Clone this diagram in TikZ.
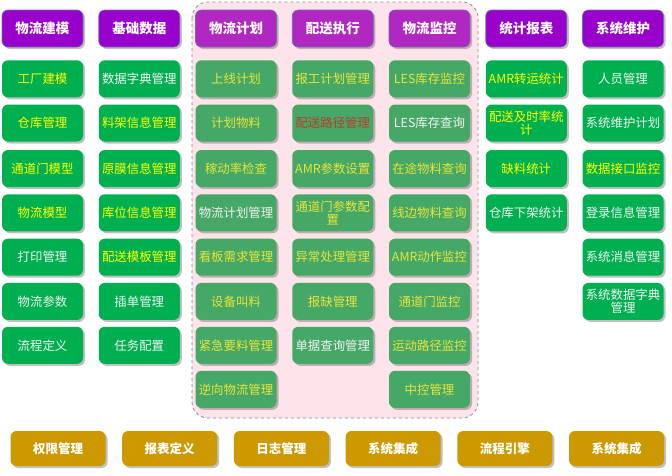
\documentclass[tikz,border=0pt]{standalone}
\usepackage{fontspec}
\setmainfont{Noto Sans CJK SC}
\usetikzlibrary{shadows}
\definecolor{hdrA}{HTML}{9900CC}
\definecolor{hdrB}{HTML}{B027C2}
\definecolor{hdrLine}{HTML}{6A6FB0}
\definecolor{grnA}{HTML}{00B050}
\definecolor{grnB}{HTML}{46A866}
\definecolor{yelA}{HTML}{FFFF00}
\definecolor{yelB}{HTML}{E8E43C}
\definecolor{whtT}{HTML}{F2F2F2}
\definecolor{redT}{HTML}{C0392B}
\definecolor{goldC}{HTML}{CC9900}
\definecolor{pinkbg}{HTML}{FCE4EA}
\definecolor{dashC}{HTML}{8C8C8C}
\tikzset{
  box/.style={rectangle, rounded corners=6pt, minimum width=81pt, minimum height=37pt,
    text width=80pt, align=center, inner sep=0.5pt,
    font=\fontsize{12.4}{13.4}\selectfont,
    drop shadow={shadow xshift=2pt,shadow yshift=-2pt,opacity=0.35,fill=black!70}},
  hA/.style={box, fill=hdrA, draw=hdrLine, line width=0.6pt, text=white, font=\bfseries\fontsize{13.5}{14.5}\selectfont},
  hB/.style={box, fill=hdrB, draw=hdrLine, line width=0.6pt, text=white, font=\bfseries\fontsize{13.5}{14.5}\selectfont},
  gAy/.style={box, fill=grnA, text=yelA},
  gAw/.style={box, fill=grnA, text=whtT},
  gBy/.style={box, fill=grnB, text=yelB},
  gBw/.style={box, fill=grnB, text=whtT},
  gBr/.style={box, fill=grnB, text=redT},
  bot/.style={rectangle, rounded corners=6pt, minimum width=95pt, minimum height=35pt,
    fill=goldC, text=white, font=\bfseries\fontsize{12.5}{14}\selectfont,
    drop shadow={shadow xshift=2pt,shadow yshift=-2pt,opacity=0.35,fill=black!70}},
  container/.style={draw=dashC, dashed, line width=0.8pt, fill=pinkbg, rounded corners=16pt}
}
\begin{document}
\begin{tikzpicture}[x=1pt,y=-1pt]
\useasboundingbox (0,0) rectangle (672,475);
\fill[white] (0,0) rectangle (672,475);
% dashed container for middle three columns
\draw[container] (192,2) rectangle (478,418);
% headers
\node[hA] (h1) at (42.5,28.5) {物流建模};
\node[hA] (h2) at (139.25,28.5) {基础数据};
\node[hB] (h3) at (236,28.5) {物流计划};
\node[hB] (h4) at (332.75,28.5) {配送执行};
\node[hB] (h5) at (429.5,28.5) {物流监控};
\node[hA] (h6) at (526.25,28.5) {统计报表};
\node[hA] (h7) at (623,28.5) {系统维护};
% column 1
\node[gAy] (a1) at (42.5,78.8) {工厂建模};
\node[gAy] (a2) at (42.5,123) {仓库管理};
\node[gAy] (a3) at (42.5,168.5) {通道门模型};
\node[gAy] (a4) at (42.5,212.8) {物流模型};
\node[gAw] (a5) at (42.5,257.2) {打印管理};
\node[gAw] (a6) at (42.5,301.4) {物流参数};
\node[gAw] (a7) at (42.5,345.3) {流程定义};
% column 2
\node[gAw] (b1) at (139.25,78.8) {数据字典管理};
\node[gAy] (b2) at (139.25,123) {料架信息管理};
\node[gAy] (b3) at (139.25,168.5) {原膜信息管理};
\node[gAy] (b4) at (139.25,212.8) {库位信息管理};
\node[gAy] (b5) at (139.25,257.2) {配送模板管理};
\node[gAw] (b6) at (139.25,301.4) {插单管理};
\node[gAw] (b7) at (139.25,345.3) {任务配置};
% column 3
\node[gBy] (c1) at (236,78.8) {上线计划};
\node[gBy] (c2) at (236,123) {计划物料};
\node[gBy] (c3) at (236,168.5) {稼动率检查};
\node[gBw] (c4) at (236,212.8) {物流计划管理};
\node[gBy] (c5) at (236,257.2) {看板需求管理};
\node[gBy] (c6) at (236,301.4) {设备叫料};
\node[gBy] (c7) at (236,345.3) {紧急要料管理};
\node[gBy] (c8) at (236,389.3) {逆向物流管理};
% column 4
\node[gBy] (d1) at (332.75,78.8) {报工计划管理};
\node[gBr] (d2) at (332.75,123) {配送路径管理};
\node[gBy] (d3) at (332.75,168.5) {AMR参数设置};
\node[gBy] (d4) at (332.75,212.8) {通道门参数配\\置};
\node[gBy] (d5) at (332.75,257.2) {异常处理管理};
\node[gBy] (d6) at (332.75,301.4) {报缺管理};
\node[gBw] (d7) at (332.75,345.3) {单据查询管理};
% column 5
\node[gBy] (e1) at (429.5,78.8) {LES库存监控};
\node[gBw] (e2) at (429.5,123) {LES库存查询};
\node[gBy] (e3) at (429.5,168.5) {在途物料查询};
\node[gBy] (e4) at (429.5,212.8) {线边物料查询};
\node[gBy] (e5) at (429.5,257.2) {AMR动作监控};
\node[gBy] (e6) at (429.5,301.4) {通道门监控};
\node[gBy] (e7) at (429.5,345.3) {运动路径监控};
\node[gBy] (e8) at (429.5,389.3) {中控管理};
% column 6
\node[gAy] (f1) at (526.25,78.8) {AMR转运统计};
\node[gAy] (f2) at (526.25,123) {配送及时率统\\计};
\node[gAy] (f3) at (526.25,168.5) {缺料统计};
\node[gAw] (f4) at (526.25,212.8) {仓库下架统计};
% column 7
\node[gAw] (g1) at (623,78.8) {人员管理};
\node[gAw] (g2) at (623,123) {系统维护计划};
\node[gAy] (g3) at (623,168.5) {数据接口监控};
\node[gAw] (g4) at (623,212.8) {登录信息管理};
\node[gAw] (g5) at (623,257.2) {系统消息管理};
\node[gAw] (g6) at (623,301.4) {系统数据字典\\管理};
% bottom row
\node[bot] (p1) at (58,448.5) {权限管理};
\node[bot] (p2) at (169.7,448.5) {报表定义};
\node[bot] (p3) at (281.4,448.5) {日志管理};
\node[bot] (p4) at (393.1,448.5) {系统集成};
\node[bot] (p5) at (504.8,448.5) {流程引擎};
\node[bot] (p6) at (616.5,448.5) {系统集成};
\end{tikzpicture}
\end{document}
